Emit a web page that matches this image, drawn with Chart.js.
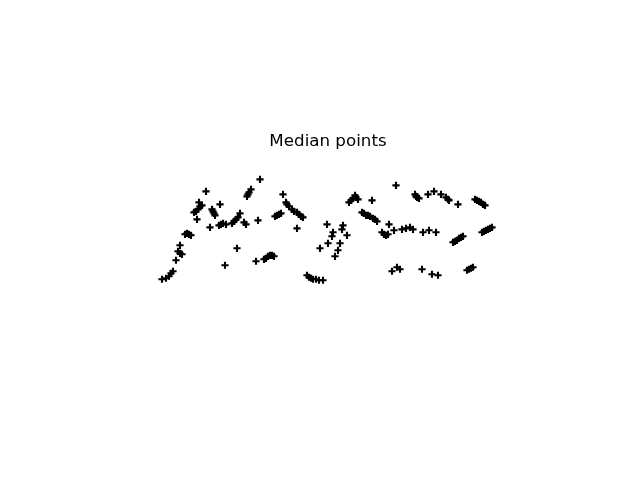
<!DOCTYPE html>
<html>
<head>
<meta charset="utf-8">
<script src="https://cdn.jsdelivr.net/npm/chart.js@4/dist/chart.umd.min.js"></script>
<style>
html,body{margin:0;padding:0;background:#fff;}
#wrap{width:640px;height:480px;}
</style>
</head>
<body>
<div id="wrap"><canvas id="c" width="640" height="480"></canvas></div>
<script>
const titleText = "Median points";
const xValues = [82,86,89,91,93,96,98,100,100,102,105,107,109,111,114,116,118,120,122,119,117,126,130,132,133,134,135,140,139,141,143,145,146,152,154,156,158,160,164,166,157,167,168,169,171,176,178,180,184,186,188,190,192,194,195,197,199,201,203,206,207,209,212,214,217,219,221,223,217,227,229,231,233,236,239,243,240,247,248,252,253,255,258,260,262,263,267,269,271,273,275,276,278,282,284,286,288,290,293,295,297,292,302,304,306,308,309,314,316,322,326,330,333,312,317,320,335,336,337,339,343,349,356,348,354,361,366,368,369,378,342,352,358,373,375,377,379,381,383,395,397,399,401,403,405,402,404,406,408,410,412,387,389,391,393];
const yValues = [143,144,146,149,151,162,171,177,169,168,188,189,188,187,210,211,213,216,217,220,203,231,195,213,211,209,207,218,197,198,199,157,198,199,201,203,205,209,200,198,174,226,228,230,233,161,202,243,163,164,166,167,167,166,206,207,208,209,228,220,218,216,213,211,210,208,206,205,194,147,145,144,143,143,142,142,174,198,179,186,190,166,172,179,193,197,187,220,222,224,227,225,223,210,209,207,207,206,204,203,201,222,190,188,187,188,198,192,237,193,194,195,193,151,155,153,228,226,225,224,190,192,190,228,231,228,225,223,222,218,153,148,147,180,181,182,184,185,186,223,222,221,220,218,217,190,191,192,193,194,195,152,153,154,155];

const points = xValues.map((x, i) => ({x: x, y: yValues[i]}));

new Chart(document.getElementById('c'), {
  type: 'scatter',
  data: {
    datasets: [{
      data: points,
      pointStyle: 'cross',
      pointRadius: 3.6,
      pointHoverRadius: 3.6,
      borderColor: '#000',
      backgroundColor: '#000',
      pointBorderWidth: 2.1,
      showLine: false
    }]
  },
  options: {
    responsive: false,
    animation: false,
    layout: { padding: { top: 122, left: 80, right: 64, bottom: 58 } },
    plugins: {
      legend: { display: false },
      tooltip: { enabled: false },
      title: {
        display: true,
        text: titleText,
        color: '#000',
        font: { family: 'DejaVu Sans', size: 16.7, weight: 'normal' },
        padding: { top: 10, bottom: 10 }
      }
    },
    scales: {
      x: { type: 'linear', display: false, min: 0, max: 496 },
      y: { type: 'linear', display: false, min: 0, max: 260.4 }
    }
  }
});
</script>
</body>
</html>
